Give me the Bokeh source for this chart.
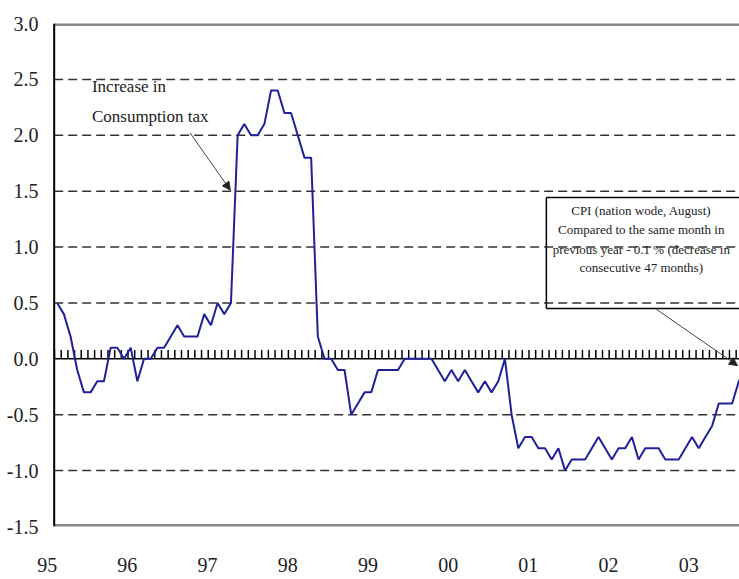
from bokeh.plotting import figure
from bokeh.models import (FixedTicker, PrintfTickFormatter, Span, Label,
                          Arrow, NormalHead, Range1d)
from bokeh.embed import file_html
from bokeh.resources import INLINE

# CPI, year-on-year change (%), monthly from Jan 1995 to Aug 2003
cpi = [
    0.5, 0.4, 0.2, -0.1, -0.3, -0.3, -0.2, -0.2, 0.1, 0.1, 0.0, 0.1,      # 1995
    -0.2, 0.0, 0.0, 0.1, 0.1, 0.2, 0.3, 0.2, 0.2, 0.2, 0.4, 0.3,          # 1996
    0.5, 0.4, 0.5, 2.0, 2.1, 2.0, 2.0, 2.1, 2.4, 2.4, 2.2, 2.2,           # 1997
    2.0, 1.8, 1.8, 0.2, 0.0, 0.0, -0.1, -0.1, -0.5, -0.4, -0.3, -0.3,     # 1998
    -0.1, -0.1, -0.1, -0.1, 0.0, 0.0, 0.0, 0.0, 0.0, -0.1, -0.2, -0.1,    # 1999
    -0.2, -0.1, -0.2, -0.3, -0.2, -0.3, -0.2, 0.0, -0.5, -0.8, -0.7, -0.7,  # 2000
    -0.8, -0.8, -0.9, -0.8, -1.0, -0.9, -0.9, -0.9, -0.8, -0.7, -0.8, -0.9,  # 2001
    -0.8, -0.8, -0.7, -0.9, -0.8, -0.8, -0.8, -0.9, -0.9, -0.9, -0.8, -0.7,  # 2002
    -0.8, -0.7, -0.6, -0.4, -0.4, -0.4, -0.2, -0.1,                      # 2003
]
months = list(range(len(cpi)))

year_labels = ["95", "96", "97", "98", "99", "00", "01", "02", "03"]
y_ticks = [-1.5, -1.0, -0.5, 0.0, 0.5, 1.0, 1.5, 2.0, 2.5, 3.0]
grid_levels = [-1.0, -0.5, 0.5, 1.0, 1.5, 2.0, 2.5]

tax_note = ["Increase in", "Consumption tax"]
cpi_note = ["CPI (nation wode, August)",
            "Compared to the same month in",
            "previous year - 0.1 % (decrease in",
            "consecutive 47 months)"]

SERIF = "Liberation Serif"
AXIS_X = -0.45      # where the vertical axis line sits (in month units)
FAR_X = 110         # beyond the right edge (clipped)

p = figure(width=739, height=579, output_backend="svg", toolbar_location=None,
           x_range=Range1d(-1.6, 102.1), y_range=Range1d(-1.5, 3.0),
           min_border_left=46, min_border_right=0, min_border_top=23,
           min_border_bottom=53)
p.outline_line_color = None
p.background_fill_color = "white"
p.border_fill_color = "white"
p.xgrid.visible = False
p.ygrid.visible = False

# x axis: only year labels
year_pos = [12 * k - 1.5 for k in range(len(year_labels))]
xa = p.xaxis[0]
xa.ticker = FixedTicker(ticks=year_pos)
xa.major_label_overrides = {pos: lab for pos, lab in zip(year_pos, year_labels)}
xa.axis_line_color = None
xa.major_tick_line_color = None
xa.minor_tick_line_color = None
xa.major_tick_out = 0
xa.major_tick_in = 0
xa.major_label_standoff = 31
xa.major_label_text_font = SERIF
xa.major_label_text_font_size = "20px"
xa.major_label_text_color = "#222222"

# y axis: labels only; axis line drawn separately
ya = p.yaxis[0]
ya.ticker = FixedTicker(ticks=y_ticks)
ya.formatter = PrintfTickFormatter(format="%.1f")
ya.major_label_text_font = SERIF
ya.major_label_text_font_size = "20px"
ya.major_label_text_color = "#222222"
ya.major_label_standoff = 8
ya.axis_line_color = None
ya.major_tick_line_color = None
ya.minor_tick_line_color = None
ya.major_tick_in = 0
ya.major_tick_out = 0

# dashed horizontal grid
p.segment(x0=AXIS_X, y0=grid_levels, x1=FAR_X, y1=grid_levels,
          line_color="#333333", line_width=1.5, line_dash="9 5")

# top / bottom borders and zero line
p.segment(x0=AXIS_X, y0=[y_ticks[0], y_ticks[-1]], x1=FAR_X, y1=[y_ticks[0], y_ticks[-1]],
          line_color="#888888", line_width=5)
p.segment(x0=AXIS_X, y0=0, x1=FAR_X, y1=0, line_color="black", line_width=1.5)

# vertical axis line
p.add_layout(Span(location=AXIS_X, dimension="height", line_color="black", line_width=2))

# monthly ticks on the zero line
tick_x = [m + 0.6 for m in range(-1, len(cpi))]
p.segment(x0=tick_x, y0=0, x1=tick_x, y1=0.08, line_color="black", line_width=1.5)

# CPI line
p.line(months, cpi, line_color="#20209a", line_width=2)

# consumption tax note
for txt, yy in zip(tax_note, [2.44, 2.17]):
    p.add_layout(Label(x=5.2, y=yy, text=txt, text_align="left", text_baseline="middle",
                       text_font=SERIF, text_font_size="17px", text_color="#222222"))
p.add_layout(Arrow(end=NormalHead(size=8, fill_color="#222222", line_color="#222222"),
                   x_start=19.9, y_start=2.02, x_end=25.9, y_end=1.51,
                   line_color="#444444", line_width=1))

# CPI note box
bx0, btop, bbot = 73.2, 1.443, 0.45
p.segment(x0=[bx0, bx0, bx0], y0=[bbot, btop, bbot], x1=[bx0, FAR_X, FAR_X], y1=[btop, btop, bbot],
          line_color="black", line_width=1.5)
for txt, yy in zip(cpi_note, [1.325, 1.156, 0.977, 0.816]):
    p.add_layout(Label(x=87.4, y=yy, text=txt, text_align="center", text_baseline="middle",
                       text_font=SERIF, text_font_size="13px", text_color="#222222"))
p.add_layout(Arrow(end=NormalHead(size=8, fill_color="#222222", line_color="#222222"),
                   x_start=89.5, y_start=0.45, x_end=101.8, y_end=-0.06,
                   line_color="#444444", line_width=1))

open("out.html", "w").write(file_html(p, INLINE))
